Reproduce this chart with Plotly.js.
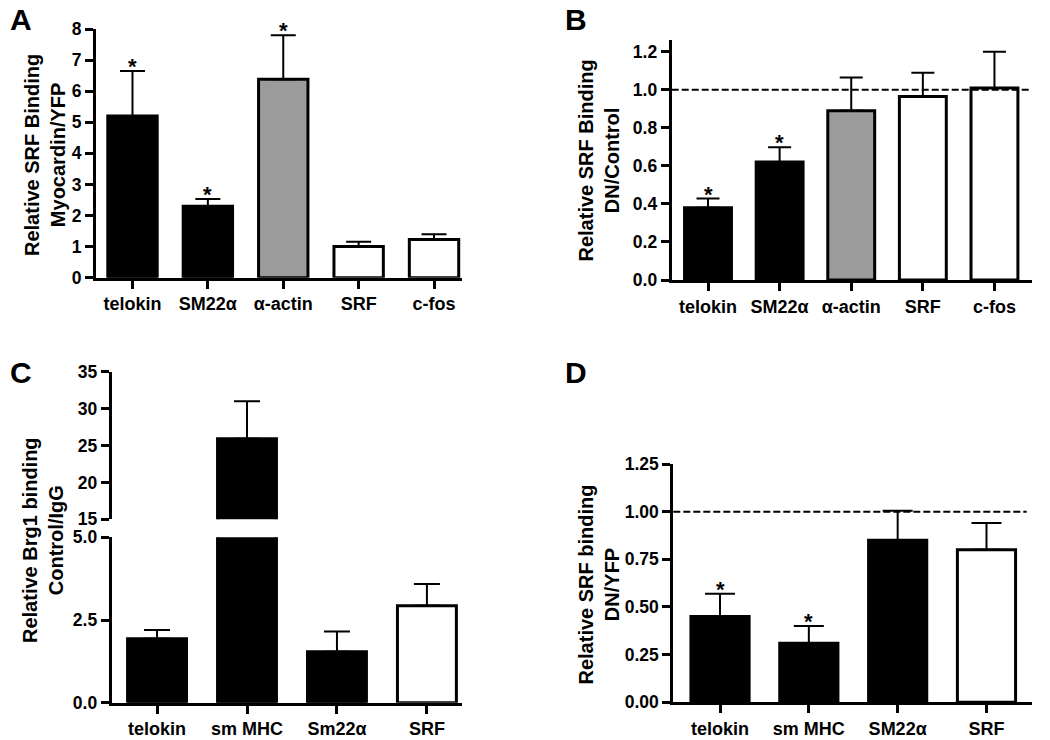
<!DOCTYPE html>
<html>
<head>
<meta charset="utf-8">
<script src="https://cdn.plot.ly/plotly-3.0.1.min.js"></script>
<style>html,body{margin:0;padding:0;background:#fff;}#chart{width:1050px;height:740px;}</style>
</head>
<body>
<div id="chart"></div>
<script>
// ---------- data ----------
const catsA = ['telokin', 'SM22α', 'α-actin', 'SRF', 'c-fos'];
const valsA = [5.2, 2.3, 6.38, 1.0, 1.23];
const errA  = [1.45, 0.23, 1.42, 0.16, 0.17];
const sigA  = [true, true, true, false, false];

const catsB = ['telokin', 'SM22α', 'α-actin', 'SRF', 'c-fos'];
const valsB = [0.38, 0.62, 0.89, 0.965, 1.01];
const errB  = [0.048, 0.078, 0.175, 0.125, 0.19];
const sigB  = [true, true, false, false, false];

const catsC = ['telokin', 'sm MHC', 'Sm22α', 'SRF'];
const valsC = [1.93, 25.9, 1.54, 2.93];
const errC  = [0.27, 5.1, 0.61, 0.66];

const catsD = ['telokin', 'sm MHC', 'SM22α', 'SRF'];
const valsD = [0.45, 0.31, 0.85, 0.80];
const errD  = [0.12, 0.09, 0.155, 0.14];
const sigD  = [true, true, false, false];

const refLine = 1.0;

const titleA = 'Relative SRF Binding<br>Myocardin/YFP';
const titleB = 'Relative SRF Binding<br>DN/Control';
const titleC = 'Relative Brg1 binding<br>Control/IgG';
const titleD = 'Relative SRF binding<br>DN/YFP';

// ---------- styles ----------
const FONT = 'Liberation Sans, Arial, Helvetica, sans-serif';
const fillAB = ['#000000', '#000000', '#9b9b9b', '#ffffff', '#ffffff'];
const fillCD = ['#000000', '#000000', '#000000', '#ffffff'];
const W = 1050, H = 740;
const xd = (l, r) => [l / W, r / W];
const yd = (top, bot) => [1 - bot / H, 1 - top / H];

function barTrace(cats, vals, errs, fills, xa, ya, capw) {
  return {
    type: 'bar', x: cats, y: vals, xaxis: xa, yaxis: ya, width: 0.655,
    marker: { color: fills, line: { color: '#000', width: 3 } },
    error_y: { type: 'data', symmetric: false, array: errs, arrayminus: errs.map(() => 0),
               color: '#000', thickness: 2, width: capw },
    showlegend: false, hoverinfo: 'x+y'
  };
}

const traces = [
  barTrace(catsA, valsA, errA, fillAB, 'x', 'y', 12.5),
  barTrace(catsB, valsB, errB, fillAB, 'x2', 'y2', 11.5),
  barTrace(catsC, valsC, errC, fillCD, 'x3', 'y3', 13),
  barTrace(catsC, valsC, errC, fillCD, 'x3', 'y4', 13),
  barTrace(catsD, valsD, errD, fillCD, 'x4', 'y5', 15)
];

function yax(domain, range, dtick, fmt, anchor) {
  return {
    domain: domain, range: range, anchor: anchor, tick0: 0, dtick: dtick, tickformat: fmt,
    showline: true, linewidth: 3, linecolor: '#000', ticks: 'outside', ticklen: 8, tickwidth: 3,
    tickcolor: '#000', showgrid: false, zeroline: false, fixedrange: true,
    tickfont: { family: FONT, size: 17.5, weight: 'bold', color: '#000' }
  };
}
function xax(domain, range, anchor) {
  return {
    domain: domain, range: range, anchor: anchor, type: 'category',
    showline: true, linewidth: 3, linecolor: '#000', ticks: 'outside', ticklen: 8, tickwidth: 3,
    tickcolor: '#000', showgrid: false, zeroline: false, fixedrange: true,
    tickfont: { family: FONT, size: 18, weight: 'bold', color: '#000' }
  };
}

const layout = {
  width: W, height: H, margin: { l: 0, r: 0, t: 0, b: 0 },
  paper_bgcolor: '#fff', plot_bgcolor: '#fff', showlegend: false, bargap: 0,
  font: { family: FONT, color: '#000' },
  xaxis:  xax(xd(96, 461.7), [-0.484, 4.367], 'y'),
  yaxis:  yax(yd(29, 277.7), [0, 8], 1, 'd', 'x'),
  xaxis2: xax(xd(671.7, 1031.7), [-0.507, 4.52], 'y2'),
  yaxis2: yax(yd(40, 280), [0, 1.262], 0.2, '.1f', 'x2'),
  xaxis3: xax(xd(111.7, 462), [-0.504, 3.39], 'y3'),
  yaxis3: yax(yd(537.3, 702.7), [0, 5], 2.5, '.1f', 'x3'),
  yaxis4: Object.assign(yax(yd(371.7, 519.3), [15, 35], 5, 'd', 'x3'), { tick0: 15 }),
  xaxis4: xax(xd(673.3, 1031.7), [-0.526, 3.509], 'y5'),
  yaxis5: yax(yd(464, 702.3), [0, 1.25], 0.25, '.2f', 'x4'),
  shapes: [
    { type: 'line', xref: 'x2 domain', yref: 'y2', x0: 0, x1: 1, y0: refLine, y1: refLine,
      line: { color: '#000', width: 2, dash: '7px,3px' }, layer: 'above' },
    { type: 'line', xref: 'x4 domain', yref: 'y5', x0: 0, x1: 0.986, y0: refLine, y1: refLine,
      line: { color: '#000', width: 2, dash: '7px,3px' }, layer: 'above' }
  ],
  annotations: []
};

// panel letters
[['A', 8, 20], ['B', 563, 20], ['C', 8, 372.5], ['D', 563, 372.5]].forEach(p => {
  layout.annotations.push({ text: p[0], xref: 'paper', yref: 'paper', x: p[1] / W, y: 1 - p[2] / H,
    xanchor: 'left', yanchor: 'middle', showarrow: false,
    font: { family: FONT, size: 30, weight: 'bold', color: '#000' } });
});

// y axis titles
[[titleA, 45, 155], [titleB, 598.5, 161], [titleC, 43, 540], [titleD, 598.5, 585]].forEach(t => {
  layout.annotations.push({ text: t[0], xref: 'paper', yref: 'paper', x: t[1] / W, y: 1 - t[2] / H,
    xanchor: 'center', yanchor: 'middle', textangle: -90, showarrow: false,
    font: { family: FONT, size: 20, weight: 'bold', color: '#000' } });
});

// significance asterisks
function stars(cats, vals, errs, sig, xa, ya) {
  cats.forEach((c, i) => {
    if (!sig[i]) return;
    layout.annotations.push({ text: '*', xref: xa, yref: ya, x: c, y: vals[i] + errs[i],
      xanchor: 'center', yanchor: 'bottom', yshift: -10, showarrow: false,
      font: { family: FONT, size: 22, weight: 'bold', color: '#000' } });
  });
}
stars(catsA, valsA, errA, sigA, 'x', 'y');
stars(catsB, valsB, errB, sigB, 'x2', 'y2');
stars(catsD, valsD, errD, sigD, 'x4', 'y5');

Plotly.newPlot('chart', traces, layout, { staticPlot: true, displayModeBar: false });
</script>
</body>
</html>
